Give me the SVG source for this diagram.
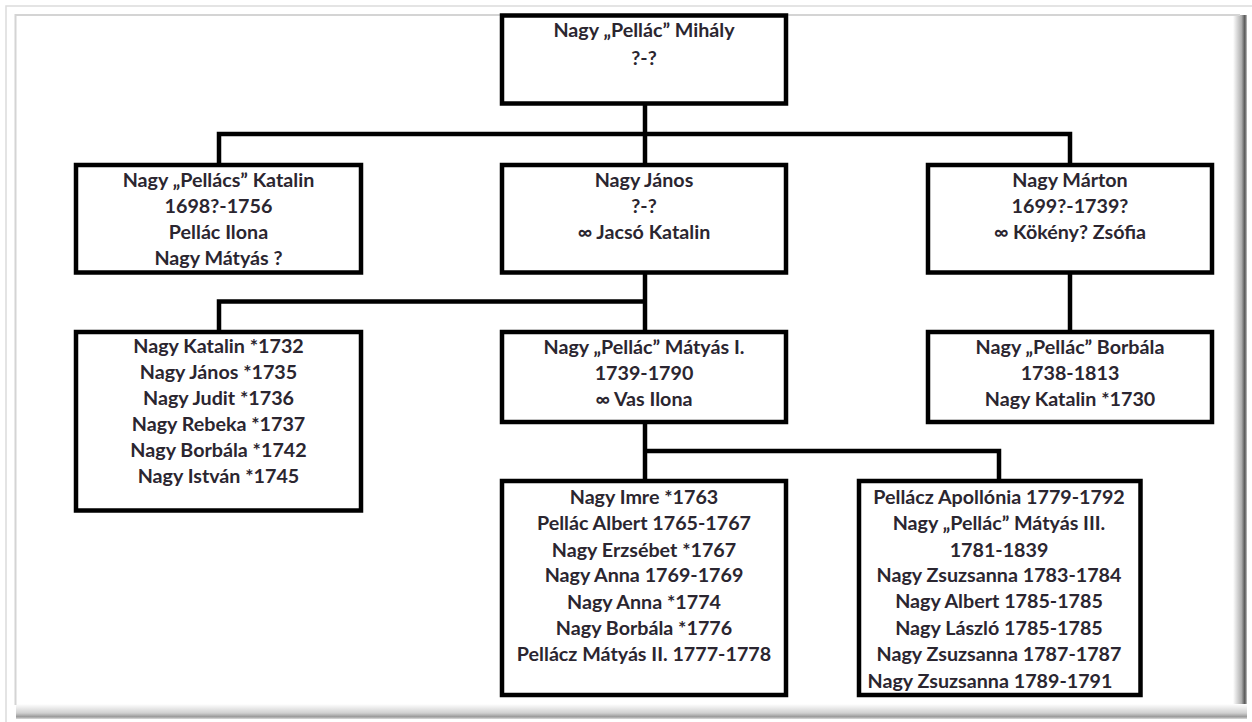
<svg xmlns="http://www.w3.org/2000/svg" width="1252" height="722" viewBox="0 0 1252 722">
<defs>
<linearGradient id="shR" x1="0" y1="0" x2="1" y2="0">
<stop offset="0" stop-color="#ffffff"/>
<stop offset="0.6" stop-color="#b0b0b0"/>
<stop offset="0.85" stop-color="#555555"/>
<stop offset="1" stop-color="#c8c8c8"/>
</linearGradient>
<linearGradient id="shB" x1="0" y1="0" x2="0" y2="1">
<stop offset="0" stop-color="#ffffff"/>
<stop offset="0.6" stop-color="#d0d0d0"/>
<stop offset="0.85" stop-color="#9a9a9a"/>
<stop offset="1" stop-color="#dddddd"/>
</linearGradient>
<style>
.box{fill:#ffffff;stroke:#000000;stroke-width:4.5}
.ln{fill:none;stroke:#000000;stroke-width:4.5}
text{font-family:"Lato","Open Sans","Liberation Sans",sans-serif;font-weight:700;font-size:19.7px;fill:#2b2630;text-anchor:middle}
</style>
</defs>
<rect x="0" y="0" width="1252" height="722" fill="#ffffff"/>
<g id="frame">
<path d="M6,722 V6 H1252" fill="none" stroke="#dcdcdc" stroke-width="1.5"/>
<rect x="1233" y="15" width="14" height="704" fill="url(#shR)"/>
<rect x="16" y="704" width="1231" height="15" fill="url(#shB)"/>
<path d="M15.5,705 V15 H1240" fill="none" stroke="#d4d4d4" stroke-width="2"/>
</g>
<g id="connectors">
<path class="ln" d="M645,104 V165"/>
<path class="ln" d="M219,165 V134 H1070 V165"/>
<path class="ln" d="M645,272 V332"/>
<path class="ln" d="M219,332 V301.5 H645"/>
<path class="ln" d="M1070,272 V332"/>
<path class="ln" d="M645,422 V481"/>
<path class="ln" d="M645,451 H999 V481"/>
</g>
<g id="n-mihaly">
<rect class="box" x="502" y="15.5" width="284" height="88"/>
<text x="644" y="37">Nagy „Pellác” Mihály</text>
<text x="644" y="65">?-?</text>
</g>
<g id="n-katalin">
<rect class="box" x="76" y="165" width="285" height="107.5"/>
<text x="218.5" y="187">Nagy „Pellács” Katalin</text>
<text x="218.5" y="213">1698?-1756</text>
<text x="218.5" y="239">Pellác Ilona</text>
<text x="218.5" y="265">Nagy Mátyás ?</text>
</g>
<g id="n-janos">
<rect class="box" x="502" y="165" width="284" height="107.5"/>
<text x="644" y="187">Nagy János</text>
<text x="644" y="213">?-?</text>
<text x="644" y="239">∞ Jacsó Katalin</text>
</g>
<g id="n-marton">
<rect class="box" x="928" y="165" width="284" height="107.5"/>
<text x="1070" y="187">Nagy Márton</text>
<text x="1070" y="213">1699?-1739?</text>
<text x="1070" y="239">∞ Kökény? Zsófia</text>
</g>
<g id="n-janos-children">
<rect class="box" x="76" y="332" width="285" height="178.5"/>
<text x="218.5" y="353">Nagy Katalin *1732</text>
<text x="218.5" y="379">Nagy János *1735</text>
<text x="218.5" y="405">Nagy Judit *1736</text>
<text x="218.5" y="431">Nagy Rebeka *1737</text>
<text x="218.5" y="457">Nagy Borbála *1742</text>
<text x="218.5" y="483">Nagy István *1745</text>
</g>
<g id="n-matyas1">
<rect class="box" x="502" y="332" width="284" height="90"/>
<text x="644" y="354">Nagy „Pellác” Mátyás I.</text>
<text x="644" y="380">1739-1790</text>
<text x="644" y="406">∞ Vas Ilona</text>
</g>
<g id="n-borbala">
<rect class="box" x="928" y="332" width="284" height="90"/>
<text x="1070" y="354">Nagy „Pellác” Borbála</text>
<text x="1070" y="380">1738-1813</text>
<text x="1070" y="406">Nagy Katalin *1730</text>
</g>
<g id="n-matyas1-children-a">
<rect class="box" x="502" y="481" width="284" height="214"/>
<text x="644" y="504">Nagy Imre *1763</text>
<text x="644" y="530">Pellác Albert 1765-1767</text>
<text x="644" y="557">Nagy Erzsébet *1767</text>
<text x="644" y="582">Nagy Anna 1769-1769</text>
<text x="644" y="609">Nagy Anna *1774</text>
<text x="644" y="635">Nagy Borbála *1776</text>
<text x="644" y="661">Pellácz Mátyás II. 1777-1778</text>
</g>
<g id="n-matyas1-children-b">
<rect class="box" x="859" y="481" width="281.5" height="214"/>
<text x="999" y="504">Pellácz Apollónia 1779-1792</text>
<text x="999" y="530">Nagy „Pellác” Mátyás III.</text>
<text x="999" y="557">1781-1839</text>
<text x="999" y="582">Nagy Zsuzsanna 1783-1784</text>
<text x="999" y="608">Nagy Albert 1785-1785</text>
<text x="999" y="635">Nagy László 1785-1785</text>
<text x="999" y="661">Nagy Zsuzsanna 1787-1787</text>
<text x="990" y="688">Nagy Zsuzsanna 1789-1791</text>
</g>
</svg>
